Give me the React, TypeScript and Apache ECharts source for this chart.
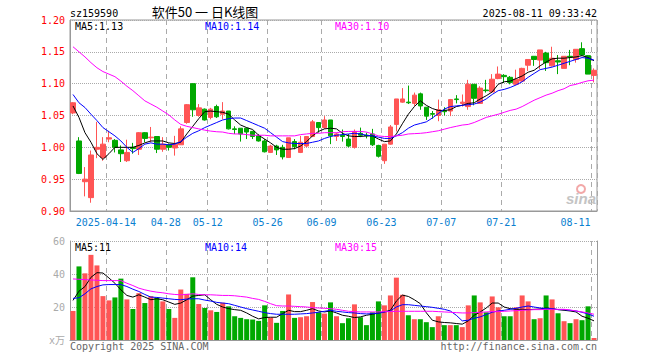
import React, { useEffect, useRef } from 'react';
import * as echarts from 'echarts';

const dates = [
  '2025-04-03','2025-04-07','2025-04-08','2025-04-09','2025-04-10','2025-04-11','2025-04-14','2025-04-15','2025-04-16','2025-04-17',
  '2025-04-18','2025-04-21','2025-04-22','2025-04-23','2025-04-24','2025-04-25','2025-04-28','2025-04-29','2025-04-30','2025-05-06',
  '2025-05-07','2025-05-08','2025-05-09','2025-05-12','2025-05-13','2025-05-14','2025-05-15','2025-05-16','2025-05-19','2025-05-20',
  '2025-05-21','2025-05-22','2025-05-23','2025-05-26','2025-05-27','2025-05-28','2025-05-29','2025-05-30','2025-06-03','2025-06-04',
  '2025-06-05','2025-06-06','2025-06-09','2025-06-10','2025-06-11','2025-06-12','2025-06-13','2025-06-16','2025-06-17','2025-06-18',
  '2025-06-19','2025-06-20','2025-06-23','2025-06-24','2025-06-25','2025-06-26','2025-06-27','2025-06-30','2025-07-01','2025-07-02',
  '2025-07-03','2025-07-04','2025-07-07','2025-07-08','2025-07-09','2025-07-10','2025-07-11','2025-07-14','2025-07-15','2025-07-16',
  '2025-07-17','2025-07-18','2025-07-21','2025-07-22','2025-07-23','2025-07-24','2025-07-25','2025-07-28','2025-07-29','2025-07-30',
  '2025-07-31','2025-08-01','2025-08-04','2025-08-05','2025-08-06','2025-08-07','2025-08-08','2025-08-11',
];

const opens = [
  1.054,1.010,0.946,0.921,0.997,0.984,1.013,1.011,0.996,0.979,
  1.000,0.997,1.023,1.015,1.017,0.997,1.004,0.999,1.004,1.039,
  1.100,1.050,1.060,1.047,1.064,1.052,1.057,1.029,1.030,1.030,
  1.025,1.018,1.010,0.992,1.002,1.000,0.984,1.009,0.992,1.002,
  1.017,1.039,1.031,1.043,1.017,1.019,1.013,1.000,1.022,1.019,
  1.021,1.003,0.979,1.005,1.036,1.071,1.071,1.069,1.084,1.063,
  1.053,1.050,1.058,1.057,1.076,1.069,1.064,1.099,1.069,1.090,
  1.087,1.108,1.113,1.110,1.099,1.104,1.129,1.143,1.137,1.148,
  1.128,1.136,1.124,1.143,1.138,1.155,1.144,1.113,
];
const closes = [
  1.070,0.959,0.950,0.988,1.000,1.005,1.015,1.000,0.990,0.992,
  0.998,1.023,1.014,1.016,0.997,1.005,1.000,1.005,1.029,1.067,
  1.059,1.062,1.043,1.060,1.048,1.057,1.029,1.028,1.021,1.024,
  1.017,1.010,0.993,1.002,0.996,0.985,1.015,1.001,1.008,1.017,
  1.040,1.031,1.043,1.018,1.021,1.017,1.002,1.025,1.019,1.018,
  1.004,0.986,1.005,1.032,1.076,1.076,1.070,1.082,1.065,1.049,
  1.052,1.059,1.056,1.075,1.075,1.071,1.099,1.077,1.093,1.089,
  1.107,1.115,1.111,1.102,1.107,1.124,1.138,1.138,1.153,1.133,
  1.140,1.134,1.143,1.142,1.154,1.145,1.115,1.121,
];
const lows = [
  1.052,0.958,0.923,0.913,0.983,0.979,1.008,0.992,0.977,0.977,
  0.990,0.988,1.008,1.008,0.991,0.993,0.995,0.987,1.004,1.037,
  1.048,1.048,1.042,1.044,1.046,1.044,1.028,1.021,1.009,1.013,
  1.013,1.009,0.992,0.991,0.988,0.981,0.984,0.997,0.991,1.000,
  1.016,1.023,1.029,1.005,1.010,1.009,1.000,0.998,1.016,1.014,
  1.002,0.984,0.974,1.004,1.025,1.070,1.068,1.065,1.059,1.043,
  1.045,1.041,1.050,1.049,1.069,1.064,1.059,1.066,1.069,1.086,
  1.086,1.107,1.101,1.099,1.098,1.103,1.120,1.128,1.123,1.120,
  1.127,1.115,1.124,1.129,1.133,1.144,1.115,1.102,
];
const highs = [
  1.071,1.016,0.969,0.995,1.040,1.016,1.026,1.013,1.003,1.012,
  1.007,1.024,1.024,1.032,1.017,1.016,1.006,1.018,1.033,1.068,
  1.100,1.068,1.061,1.062,1.067,1.071,1.057,1.033,1.030,1.031,
  1.026,1.021,1.013,1.004,1.004,1.004,1.015,1.013,1.018,1.017,
  1.043,1.039,1.049,1.043,1.023,1.028,1.021,1.028,1.031,1.023,
  1.029,1.004,1.005,1.035,1.076,1.093,1.097,1.086,1.086,1.063,
  1.057,1.075,1.063,1.076,1.082,1.083,1.106,1.099,1.096,1.106,
  1.115,1.127,1.115,1.112,1.122,1.125,1.138,1.143,1.153,1.150,
  1.158,1.145,1.143,1.153,1.154,1.165,1.145,1.124,
];

const ma5 = [
  1.065,1.047,1.023,1.008,0.990,0.981,0.990,1.000,1.000,1.000,
  1.000,1.003,1.007,1.010,1.010,1.010,1.007,1.006,1.008,1.021,
  1.033,1.045,1.056,1.057,1.056,1.055,1.052,1.043,1.035,1.031,
  1.028,1.019,1.013,1.007,1.000,0.997,0.997,0.998,1.002,1.009,
  1.018,1.025,1.029,1.030,1.029,1.022,1.018,1.017,1.017,1.018,
  1.018,1.013,1.009,1.010,1.021,1.037,1.052,1.064,1.073,1.066,
  1.061,1.058,1.058,1.059,1.064,1.066,1.069,1.070,1.076,1.081,
  1.087,1.099,1.103,1.104,1.108,1.112,1.118,1.121,1.128,1.134,
  1.139,1.140,1.140,1.141,1.142,1.144,1.141,1.136,
];
const ma10 = [
  1.083,1.070,1.0625,1.052,1.042,1.031,1.0245,1.018,1.010,1.000,
  0.992,0.998,1.005,1.007,1.005,1.005,1.004,1.005,1.009,1.016,
  1.022,1.026,1.031,1.035,1.039,1.043,1.045,1.046,1.046,1.042,
  1.038,1.034,1.030,1.023,1.016,1.009,1.007,1.006,1.006,1.006,
  1.008,1.010,1.014,1.017,1.019,1.020,1.021,1.022,1.021,1.019,
  1.018,1.016,1.014,1.014,1.018,1.023,1.030,1.035,1.0375,1.040,
  1.046,1.053,1.060,1.064,1.065,1.066,1.067,1.068,1.071,1.076,
  1.083,1.089,1.091,1.094,1.098,1.103,1.110,1.116,1.122,1.124,
  1.126,1.129,1.132,1.135,1.138,1.141,1.140,1.137,
];
const ma30 = [
  1.158,1.150,1.142,1.133,1.125,1.119,1.115,1.111,1.104,1.096,
  1.089,1.081,1.073,1.068,1.063,1.057,1.051,1.043,1.036,1.033,
  1.031,1.029,1.027,1.0255,1.0245,1.024,1.022,1.021,1.021,1.020,
  1.019,1.019,1.019,1.018,1.018,1.018,1.018,1.018,1.020,1.021,
  1.022,1.022,1.023,1.023,1.023,1.0245,1.025,1.025,1.025,1.024,
  1.021,1.018,1.017,1.017,1.018,1.019,1.021,1.0215,1.022,1.023,
  1.0245,1.026,1.0285,1.031,1.033,1.035,1.036,1.039,1.043,1.047,
  1.0495,1.052,1.055,1.058,1.060,1.064,1.069,1.074,1.078,1.082,
  1.085,1.089,1.092,1.097,1.099,1.102,1.1045,1.1055,
];

const volumes = [
  17.6,44.6,40.4,51.6,45.2,26.6,24,25.8,37.2,24.6,
  18.8,28.4,22.4,26.6,25.6,23.4,18.8,13.4,30.6,28,
  38,21.8,19.4,18,17,22.6,20.4,14.4,13.4,12.6,
  12.4,11.6,21,13.6,10.4,17.6,27.6,13.4,13.8,14.4,
  23,16.8,16,22.8,14.4,10.2,13.2,21.6,13.8,9,
  16.8,23.4,21,27,37.8,27.4,15,12.6,12.6,10.8,
  7.8,14.4,9,9,9,7.8,21,27,22.8,16.8,
  26.4,19.8,14.4,14.4,19.8,27,23.4,12.6,13.2,27,
  24.6,16.2,11.4,10.2,12.6,12,20.4,1.2,
];
const volMa5 = [
  24,29.6,32.4,38,40.8,40.6,37.6,34.4,30.4,27,
  26,27.4,26,24.4,25,24.4,23,21.6,22.4,24.4,
  26.6,27,27.4,24.4,21.6,20,19,18.4,18,16.4,
  14.4,12.8,13.6,13.8,13.8,16,18,17.2,17.2,18,
  19,17.6,17,17.6,16.4,15,14.4,13.6,14,15,
  15.6,16.4,17,18,23.6,27.2,26.4,24.4,22,16.5,
  12,11,10.6,10.4,10,9.6,11.6,15,17,19.4,
  22.4,22.4,20,19,18.6,18.6,18.4,18.6,18.8,19.4,
  19,18.4,18,17.6,17,14.4,13.2,11.6,
];
const volMa10 = [
  25.2,25.6,28,31,32.4,33.4,33.6,33.6,33.6,32.4,
  30.8,29.4,27.6,26,25.8,25.4,25,24.6,24.4,24.8,
  25,25,24.2,23.6,22.8,22.4,22,21,20,19,
  18.2,17.4,16.6,16,15.6,15.6,15.6,15.6,15.8,16,
  16.4,16.8,17.4,18,17.4,17,16.6,16.4,16,15.8,
  16,16.2,17,17.6,20,21.4,21.4,21,20.6,20.2,
  19.8,19.2,18.6,17.6,15,11.6,12,13.2,14,15.4,
  16.8,17.6,18,18.6,19.2,20,20.6,20,19.4,19,
  19,18.4,18.4,18,17.6,16.8,15.8,14.4,
];
const volMa30 = [
  37,36.8,36.6,36.4,36.2,36,36,36,36,34.4,
  33,31.4,30.4,29.6,29,28.6,28,27.6,27.4,27.6,
  28,27.6,27.4,27.4,27.2,27,27,26.8,26.4,26,
  25.2,24.6,23.4,22,20.8,20.6,20.6,20.4,20.2,20,
  19.6,19.4,19.2,19,18.6,18,17.4,17.2,17,17,
  17,17,17.2,17.2,17.4,17.4,17.4,17.4,17.4,17.4,
  17.4,17.2,17,16.8,16.6,16.4,16.4,16.6,16.8,17,
  17.2,17.2,17.4,17.6,17.8,18,18.2,18.4,18.4,18.6,
  18.6,18.6,18.6,18.2,17.6,17,16.4,15.6,
];

const priceMin = 0.9;
const priceMax = 1.2;
const priceStep = 0.05;
const volMin = 0;
const volMax = 60;
const volStep = 20;
const volUnitLabel = 'x万';

const tickDates = ['2025-04-14','2025-04-28','2025-05-12','2025-05-26','2025-06-09','2025-06-23','2025-07-07','2025-07-21','2025-08-11'];
const tickTexts = ['2025-04-14','04-28','05-12','05-26','06-09','06-23','07-07','07-21','08-11'];

const priceLegend = ['MA5:1.13', 'MA10:1.14', 'MA30:1.10'];
const volLegend = ['MA5:11', 'MA10:14', 'MA30:15'];
const symbolCode = 'sz159590';
const titleText = '软件50 一 日K线图';
const timeText = '2025-08-11 09:33:42';
const copyrightText = 'Copyright 2025 SINA.COM';
const urlText = 'http://finance.sina.com.cn';

const RED = '#ff5555';
const GREEN = '#00a800';
const MA_COLORS = ['#000000', '#0000ff', '#ff00ff'];
const MONO = '"DejaVu Sans Mono", "Noto Sans CJK SC", monospace';

export default function App() {
  const ref = useRef<HTMLDivElement>(null);
  useEffect(() => {
    document.body.style.margin = '0';
    if (!ref.current) return;
    const chart = echarts.init(ref.current, null, { renderer: 'svg' });
    const isTick = (i: number) => tickDates.indexOf(dates[i]) >= 0;
    const splitX = { show: true, interval: (i: number) => isTick(i), lineStyle: { color: '#aaaaaa', type: [5, 4], width: 1 } };
    const legendX = [75, 205, 335];
    const graphics: any[] = [
      { type: 'text', x: 70, y: 13, style: { text: symbolCode, fill: '#000', font: '10px ' + MONO, textAlign: 'left', textVerticalAlign: 'middle' } },
      { type: 'text', x: 205, y: 11, style: { text: titleText, fill: '#000', font: '13px "Noto Sans CJK SC"', textAlign: 'center', textVerticalAlign: 'middle' } },
      { type: 'text', x: 597, y: 13, style: { text: timeText, fill: '#000', font: '10px ' + MONO, textAlign: 'right', textVerticalAlign: 'middle' } },
      { type: 'text', x: 70, y: 346, style: { text: copyrightText, fill: '#666', font: '10px ' + MONO, textAlign: 'left', textVerticalAlign: 'middle' } },
      { type: 'text', x: 597, y: 346, style: { text: urlText, fill: '#666', font: '10px ' + MONO, textAlign: 'right', textVerticalAlign: 'middle' } },
      { type: 'circle', shape: { cx: 581, cy: 189, r: 4 }, style: { fill: 'none', stroke: '#f2a8a8', lineWidth: 2 }, z: 1 },
      { type: 'text', x: 566, y: 198, z: 1, style: { text: 'sina', fill: '#c4c4c4', font: 'italic bold 15px "Liberation Sans"', textAlign: 'left', textVerticalAlign: 'middle' } },
    ];
    priceLegend.forEach((t, i) => graphics.push({ type: 'text', x: legendX[i], y: 26, z: 10, style: { text: t, fill: MA_COLORS[i], font: '10px ' + MONO, textAlign: 'left', textVerticalAlign: 'middle' } }));
    volLegend.forEach((t, i) => graphics.push({ type: 'text', x: legendX[i], y: 247, z: 10, style: { text: t, fill: MA_COLORS[i], font: '10px ' + MONO, textAlign: 'left', textVerticalAlign: 'middle' } }));

    const lineSeries = (data: number[], color: string, xi: number, yi: number) => ({
      type: 'line', xAxisIndex: xi, yAxisIndex: yi, data, symbol: 'none', silent: true,
      lineStyle: { color, width: 1 }, z: 5,
    });

    chart.setOption({
      animation: false,
      grid: [
        { left: 70, top: 20, width: 527, height: 191, show: true, borderColor: '#999', borderWidth: 1, backgroundColor: 'transparent' },
        { left: 70, top: 241, width: 527, height: 99 },
      ],
      xAxis: [
        {
          type: 'category', gridIndex: 0, data: dates, boundaryGap: true,
          axisLine: { lineStyle: { color: '#999' } }, axisTick: { show: false },
          axisLabel: {
            interval: (i: number) => isTick(i), color: '#0a80d0', fontFamily: MONO, fontSize: 10, margin: 6,
            formatter: (v: string) => {
              const k = tickDates.indexOf(v);
              if (k < 0) return '';
              return k === tickDates.length - 1 ? '{e|' + tickTexts[k] + '}' : '{a|' + tickTexts[k] + '}';
            },
            rich: {
              a: { color: '#0a80d0', fontFamily: MONO, fontSize: 10, padding: [0, 6, 0, 0] },
              e: { color: '#0a80d0', fontFamily: MONO, fontSize: 10, padding: [0, 37, 0, 0] },
            },
          },
          splitLine: splitX,
        },
        {
          type: 'category', gridIndex: 1, data: dates, boundaryGap: true, position: 'top',
          axisLine: { lineStyle: { color: '#999' } }, axisTick: { show: false }, axisLabel: { show: false },
          splitLine: splitX,
        },
      ],
      yAxis: [
        {
          type: 'value', gridIndex: 0, min: priceMin, max: priceMax, interval: priceStep,
          axisLine: { show: true, lineStyle: { color: '#999' } }, axisTick: { show: false },
          axisLabel: { formatter: (v: number) => v.toFixed(2), color: '#ff0000', fontFamily: MONO, fontSize: 10, margin: 5 },
          splitLine: { show: true, lineStyle: { color: '#aaaaaa', type: 'dotted', width: 1 } },
        },
        {
          type: 'value', gridIndex: 1, min: volMin, max: volMax, interval: volStep,
          axisLine: { show: true, lineStyle: { color: '#999' } }, axisTick: { show: false },
          axisLabel: { formatter: (v: number) => (v === 0 ? volUnitLabel : String(v)), color: '#aaaaaa', fontFamily: MONO, fontSize: 10, margin: 5 },
          splitLine: { show: true, lineStyle: { color: '#aaaaaa', type: 'dotted', width: 1 } },
        },
        {
          type: 'value', gridIndex: 1, position: 'right', min: volMin, max: volMax, interval: volStep,
          axisLine: { show: true, lineStyle: { color: '#999' } }, axisTick: { show: false },
          axisLabel: { show: false }, splitLine: { show: false },
        },
      ],
      series: [
        {
          type: 'candlestick', xAxisIndex: 0, yAxisIndex: 0, barWidth: 5, silent: true,
          data: dates.map((_, i) => [opens[i], closes[i], lows[i], highs[i]]),
          itemStyle: { color: RED, color0: GREEN, borderColor: RED, borderColor0: GREEN, borderWidth: 1 },
        },
        lineSeries(ma5, MA_COLORS[0], 0, 0),
        lineSeries(ma10, MA_COLORS[1], 0, 0),
        lineSeries(ma30, MA_COLORS[2], 0, 0),
        {
          type: 'bar', xAxisIndex: 1, yAxisIndex: 1, barWidth: 5, silent: true,
          data: volumes.map((v, i) => ({ value: v, itemStyle: { color: closes[i] > opens[i] ? RED : GREEN } })),
        },
        lineSeries(volMa5, MA_COLORS[0], 1, 1),
        lineSeries(volMa10, MA_COLORS[1], 1, 1),
        lineSeries(volMa30, MA_COLORS[2], 1, 1),
      ],
      graphic: graphics,
    });
    return () => chart.dispose();
  }, []);
  return <div ref={ref} style={{ width: 660, height: 360 }} />;
}
